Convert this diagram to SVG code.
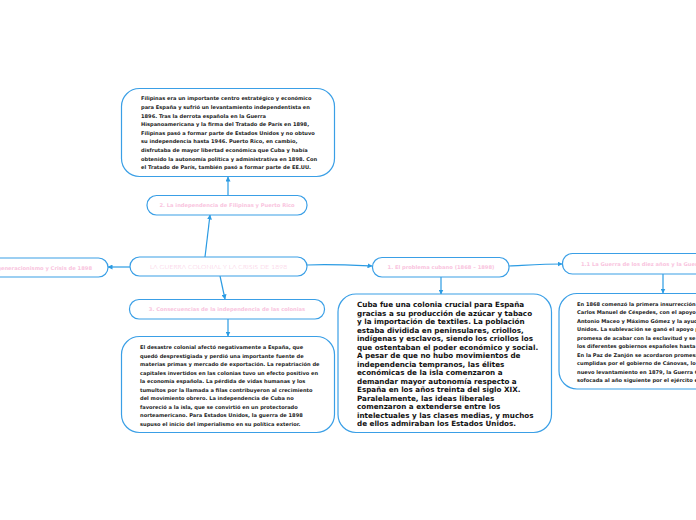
<svg xmlns="http://www.w3.org/2000/svg" width="696" height="520" viewBox="0 0 696 520">
<style>
.box{fill:#fff;stroke:#3a9fe6;stroke-width:1.2}
.lbl{font-family:"DejaVu Sans",Verdana,sans-serif;font-weight:bold;font-size:5.2px;fill:#f9c4de;text-anchor:middle}
.main{font-family:Lato,"Liberation Sans",sans-serif;font-weight:300;font-size:6.6px;letter-spacing:0.15px;fill:#f9c4de;text-anchor:middle}
.sm{font-family:"DejaVu Sans",Verdana,sans-serif;font-weight:bold;font-size:5.1px;fill:#222}
.md{font-family:"DejaVu Sans",Verdana,sans-serif;font-weight:bold;font-size:7.2px;fill:#111}
.con{fill:none;stroke:#2b9be3;stroke-width:1.2}
</style>
<defs>
<marker id="ah" viewBox="0 0 10 10" refX="9" refY="5" markerWidth="5" markerHeight="5" orient="auto" markerUnits="userSpaceOnUse">
<path d="M0,0L10,5L0,10z" fill="#2b9be3"/>
</marker>
</defs>
<rect width="696" height="520" fill="#fff"/>
<g id="connectors">
<path class="con" d="M205,257L210,215" marker-end="url(#ah)"/>
<path class="con" d="M228,195L228,177" marker-end="url(#ah)"/>
<path class="con" d="M130,267L108,267" marker-end="url(#ah)"/>
<path class="con" d="M220,276L225,299" marker-end="url(#ah)"/>
<path class="con" d="M228,319L228,336" marker-end="url(#ah)"/>
<path class="con" d="M307,265C330,264 350,265 372,266" marker-end="url(#ah)"/>
<path class="con" d="M441,277L441,294" marker-end="url(#ah)"/>
<path class="con" d="M509,266C530,265 545,264 562,264" marker-end="url(#ah)"/>
<path class="con" d="M663,274L663,293" marker-end="url(#ah)"/>
</g>
<g id="node-main">
<rect class="box" x="130" y="257" width="177" height="19" rx="9.5"/>
<text class="main" x="218.5" y="269">LA GUERRA COLONIAL Y LA CRISIS DE 1898</text>
</g>
<g id="node-2">
<rect class="box" x="147" y="195.5" width="160" height="19.5" rx="9.5"/>
<text class="lbl" x="227" y="207">2. La independencia de Filipinas y Puerto Rico</text>
</g>
<g id="node-2-text">
<rect class="box" x="121.5" y="88.5" width="213" height="88" rx="18"/>
<text class="sm" x="141" y="100.4">
<tspan x="141">Filipinas era un importante centro estratégico y económico</tspan>
<tspan x="141" dy="8.6">para España y sufrió un levantamiento independentista en</tspan>
<tspan x="141" dy="8.6">1896. Tras la derrota española en la Guerra</tspan>
<tspan x="141" dy="8.6">Hispanoamericana y la firma del Tratado de París en 1898,</tspan>
<tspan x="141" dy="8.6">Filipinas pasó a formar parte de Estados Unidos y no obtuvo</tspan>
<tspan x="141" dy="8.6">su independencia hasta 1946. Puerto Rico, en cambio,</tspan>
<tspan x="141" dy="8.6">disfrutaba de mayor libertad económica que Cuba y había</tspan>
<tspan x="141" dy="8.6">obtenido la autonomía política y administrativa en 1898. Con</tspan>
<tspan x="141" dy="8.6">el Tratado de París, también pasó a formar parte de EE.UU.</tspan>
</text>
</g>
<g id="node-4">
<rect class="box" x="-80" y="258" width="188" height="19" rx="9.5"/>
<text class="lbl" x="92" y="269.5" style="text-anchor:end">4. Regeneracionismo y Crisis de 1898</text>
</g>
<g id="node-3">
<rect class="box" x="129.5" y="299.5" width="195" height="19.5" rx="9.5"/>
<text class="lbl" x="227" y="311">3. Consecuencias de la independencia de las colonias</text>
</g>
<g id="node-3-text">
<rect class="box" x="121.5" y="336.5" width="213" height="96" rx="18"/>
<text class="sm" x="140" y="349.4">
<tspan x="140">El desastre colonial afectó negativamente a España, que</tspan>
<tspan x="140" dy="8.48">quedó desprestigiada y perdió una importante fuente de</tspan>
<tspan x="140" dy="8.48">materias primas y mercado de exportación. La repatriación de</tspan>
<tspan x="140" dy="8.48">capitales invertidos en las colonias tuvo un efecto positivo en</tspan>
<tspan x="140" dy="8.48">la economía española. La pérdida de vidas humanas y los</tspan>
<tspan x="140" dy="8.48">tumultos por la llamada a filas contribuyeron al crecimiento</tspan>
<tspan x="140" dy="8.48">del movimiento obrero. La independencia de Cuba no</tspan>
<tspan x="140" dy="8.48">favoreció a la isla, que se convirtió en un protectorado</tspan>
<tspan x="140" dy="8.48">norteamericano. Para Estados Unidos, la guerra de 1898</tspan>
<tspan x="140" dy="8.48">supuso el inicio del imperialismo en su política exterior.</tspan>
</text>
</g>
<g id="node-1">
<rect class="box" x="372.5" y="257.5" width="136.5" height="19.5" rx="9.5"/>
<text class="lbl" x="441" y="269">1. El problema cubano (1868 – 1898)</text>
</g>
<g id="node-1-text">
<rect class="box" x="338" y="294" width="213.5" height="138.5" rx="18"/>
<text class="md" x="357" y="307.4">
<tspan x="357">Cuba fue una colonia crucial para España</tspan>
<tspan x="357" dy="8.5">gracias a su producción de azúcar y tabaco</tspan>
<tspan x="357" dy="8.5">y la importación de textiles. La población</tspan>
<tspan x="357" dy="8.5">estaba dividida en peninsulares, criollos,</tspan>
<tspan x="357" dy="8.5">indígenas y esclavos, siendo los criollos los</tspan>
<tspan x="357" dy="8.5">que ostentaban el poder económico y social.</tspan>
<tspan x="357" dy="8.5">A pesar de que no hubo movimientos de</tspan>
<tspan x="357" dy="8.5">independencia tempranos, las élites</tspan>
<tspan x="357" dy="8.5">económicas de la isla comenzaron a</tspan>
<tspan x="357" dy="8.5">demandar mayor autonomía respecto a</tspan>
<tspan x="357" dy="8.5">España en los años treinta del siglo XIX.</tspan>
<tspan x="357" dy="8.5">Paralelamente, las ideas liberales</tspan>
<tspan x="357" dy="8.5">comenzaron a extenderse entre los</tspan>
<tspan x="357" dy="8.5">intelectuales y las clases medias, y muchos</tspan>
<tspan x="357" dy="8.5">de ellos admiraban los Estados Unidos.</tspan>
</text>
</g>
<g id="node-1-1">
<rect class="box" x="562.5" y="253.5" width="190" height="20.5" rx="10"/>
<text class="lbl" x="581" y="265.5" style="text-anchor:start">1.1 La Guerra de los diez años y la Guerra Chiquita</text>
</g>
<g id="node-1-1-text">
<rect class="box" x="559" y="293.5" width="213" height="95.5" rx="18"/>
<text class="sm" x="577" y="305.9">
<tspan x="577">En 1868 comenzó la primera insurrección</tspan>
<tspan x="577" dy="8.5">Carlos Manuel de Céspedes, con el apoyo de</tspan>
<tspan x="577" dy="8.5">Antonio Maceo y Máximo Gómez y la ayuda</tspan>
<tspan x="577" dy="8.5">Unidos. La sublevación se ganó el apoyo por</tspan>
<tspan x="577" dy="8.5">promesa de acabar con la esclavitud y se</tspan>
<tspan x="577" dy="8.5">los diferentes gobiernos españoles hasta</tspan>
<tspan x="577" dy="8.5">En la Paz de Zanjón se acordaron promesas</tspan>
<tspan x="577" dy="8.5">cumplidas por el gobierno de Cánovas, lo que</tspan>
<tspan x="577" dy="8.5">nuevo levantamiento en 1879, la Guerra Chiquita</tspan>
<tspan x="577" dy="8.5">sofocada al año siguiente por el ejército español</tspan>
</text>
</g>
</svg>
